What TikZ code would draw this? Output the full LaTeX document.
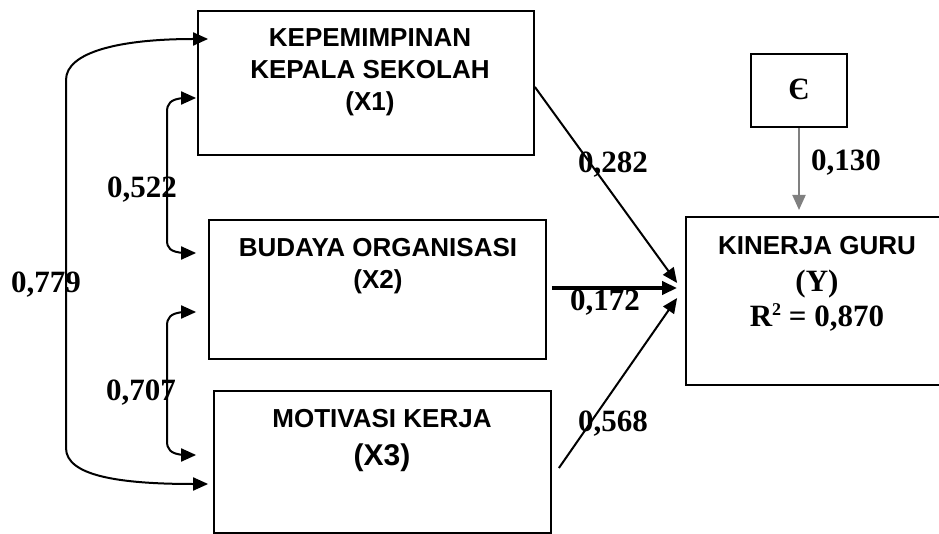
\documentclass[tikz,border=0pt]{standalone}
\usepackage{fontspec}
\setmainfont{Liberation Serif}
\setsansfont{Liberation Sans}
\usetikzlibrary{arrows.meta}

\begin{document}
\begin{tikzpicture}[x=1pt, y=-1pt, line width=2pt,
    var/.style={draw, line width=1.8pt, inner sep=0pt},
    vtxt/.style={anchor=north, align=center, inner sep=0pt, font=\sffamily\bfseries\fontsize{26}{32}\selectfont},
    coef/.style={anchor=base, inner sep=0pt, font=\bfseries\fontsize{31}{34}\selectfont},
    eff/.style={-{Triangle[length=15pt, width=13pt]}},
    corr/.style={{Triangle[length=15pt, width=13pt]}-{Triangle[length=15pt, width=13pt]}}]
  \useasboundingbox (0,0) rectangle (939,534);
  % variables
  \node[var, minimum width=336pt, minimum height=144pt] (x1) at (366,83) {};
  \node[var, minimum width=337pt, minimum height=139pt] (x2) at (377.5,289.5) {};
  \node[var, minimum width=337pt, minimum height=142pt] (x3) at (382.5,462) {};
  \node[var, minimum width=259pt, minimum height=168pt] (y) at (815.5,301) {};
  \node[var, minimum width=96pt, minimum height=73pt, font=\bfseries\fontsize{31}{34}\selectfont] (eps) at (799,90.5) {\raisebox{2pt}{Є}};
  \node[vtxt] (x1t) at (370,28) {KEPEMIMPINAN\\KEPALA SEKOLAH\\(X1)};
  \node[vtxt] (x2t) at (378,237) {BUDAYA ORGANISASI\\(X2)};
  \node[vtxt] (x3t) at (382,408) {MOTIVASI KERJA\\[6pt]{\fontsize{30}{34}\selectfont (X3)}};
  \node[vtxt] (yt) at (817,235) {KINERJA GURU\\[5pt]{\rmfamily\fontsize{31}{34}\selectfont (Y)}\\[3pt]{\rmfamily\fontsize{31}{34}\selectfont R\raisebox{11pt}{\fontsize{18}{18}\selectfont 2} = 0,870}};
  % correlations
  \draw[corr] ([xshift=11pt,yshift=44pt]x1.west) .. controls (120,39) and (66,52) .. (66,80)
    -- (66,448) .. controls (66,476) and (120,484) .. ([xshift=-5pt,yshift=-22pt]x3.west);
  \draw[corr] ([xshift=-1pt,yshift=-15pt]x1.west) -- (184,98) .. controls (170,99) and (167,104) .. (167,112)
    -- (167,240) .. controls (167,248) and (170,252) .. (184,253) -- ([xshift=-12pt,yshift=36.5pt]x2.west);
  \draw[corr] ([xshift=-12pt,yshift=-22.5pt]x2.west) -- (184,312) .. controls (170,313) and (167,318) .. (167,326)
    -- (167,441) .. controls (167,449) and (170,454) .. (184,455) -- ([xshift=-17pt,yshift=7pt]x3.west);
  % paths
  \draw[eff] ([yshift=-4pt]x1.east) -- ([xshift=-8pt,yshift=18pt]y.west);
  \draw[eff, line width=3.6pt] ([xshift=5pt,yshift=1.5pt]x2.east) -- ([xshift=-8pt,yshift=13pt]y.west);
  \draw[eff] ([xshift=7pt,yshift=-6pt]x3.east) -- ([xshift=-8pt,yshift=3pt]y.west);
  \draw[eff, gray, line width=2pt] (eps.south) -- (eps.south |- 0,210);
  % coefficients
  \node[coef] (r12) at (142,198) {0,522};
  \node[coef] (r13) at (46,293) {0,779};
  \node[coef] (r23) at (141,400) {0,707};
  \node[coef] (p1) at (613,173) {0,282};
  \node[coef] (p2) at (605,311) {0,172};
  \node[coef] (p3) at (613,431) {0,568};
  \node[coef] (pe) at (846,171) {0,130};
\end{tikzpicture}
\end{document}
